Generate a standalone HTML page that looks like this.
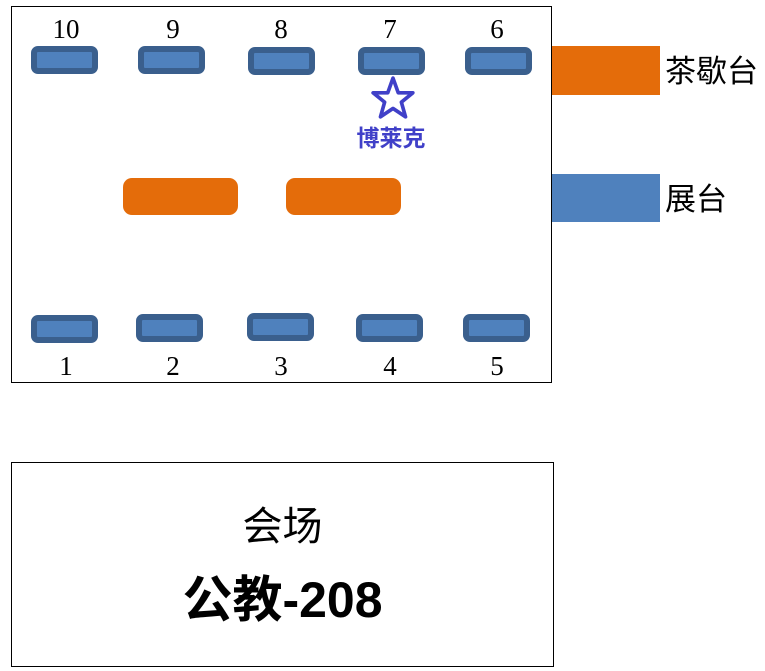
<!DOCTYPE html>
<html><head><meta charset="utf-8"><style>
body{margin:0;width:765px;height:671px;background:#fff;position:relative;overflow:hidden;font-family:"Liberation Sans","Noto Sans CJK SC",sans-serif}
.a{position:absolute;box-sizing:border-box}
.b{position:absolute;box-sizing:border-box;background:#4f81bd;border:6px solid #3a5f8d;border-radius:7px;width:67px;height:28px}
.n{position:absolute;font-family:"Liberation Serif",serif;font-size:27px;width:60px;text-align:center;line-height:30px}
.o{position:absolute;background:#e46c0a;border-radius:9px;height:37px;width:115px;top:178px}
</style></head><body>
<div class="a" style="left:11px;top:6px;width:541px;height:377px;border:1px solid #000"></div>
<div class="b" style="left:31px;top:46px"></div>
<div class="b" style="left:138px;top:46px"></div>
<div class="b" style="left:248px;top:47px"></div>
<div class="b" style="left:358px;top:47px"></div>
<div class="b" style="left:465px;top:47px"></div>
<div class="b" style="left:31px;top:315px"></div>
<div class="b" style="left:136px;top:314px"></div>
<div class="b" style="left:247px;top:313px"></div>
<div class="b" style="left:356px;top:314px"></div>
<div class="b" style="left:463px;top:314px"></div>
<div class="n" style="left:36px;top:14px">10</div>
<div class="n" style="left:143px;top:14px">9</div>
<div class="n" style="left:251px;top:14px">8</div>
<div class="n" style="left:360px;top:14px">7</div>
<div class="n" style="left:467px;top:14px">6</div>
<div class="n" style="left:36px;top:351px">1</div>
<div class="n" style="left:143px;top:351px">2</div>
<div class="n" style="left:251px;top:351px">3</div>
<div class="n" style="left:360px;top:351px">4</div>
<div class="n" style="left:467px;top:351px">5</div>
<div class="o" style="left:123px"></div>
<div class="o" style="left:286px"></div>
<svg class="a" style="left:370px;top:75px" width="46" height="46" viewBox="0 0 44 44"><polygon points="22,3 27,17 41,17 30,26 34,40 22,32 10,40 14,26 3,17 17,17" fill="none" stroke="#4040c8" stroke-width="3.5" stroke-linejoin="round"/></svg>
<div class="a" style="left:341px;top:123px;width:100px;text-align:center;font-weight:bold;font-size:23px;color:#4040c8;line-height:30px">博莱克</div>
<div class="a" style="left:552px;top:46px;width:108px;height:49px;background:#e46c0a"></div>
<div class="a" style="left:552px;top:174px;width:108px;height:48px;background:#4f81bd"></div>
<div class="a" style="left:665px;top:54px;font-size:31px;line-height:36px">茶歇台</div>
<div class="a" style="left:665px;top:182px;font-size:31px;line-height:36px">展台</div>
<div class="a" style="left:11px;top:462px;width:543px;height:205px;border:1px solid #000"></div>
<div class="a" style="left:11px;top:503px;width:543px;text-align:center;font-size:40px;line-height:48px">会场</div>
<div class="a" style="left:11px;top:570px;width:543px;text-align:center;font-size:50px;font-weight:bold;line-height:60px">公教-208</div>
</body></html>
